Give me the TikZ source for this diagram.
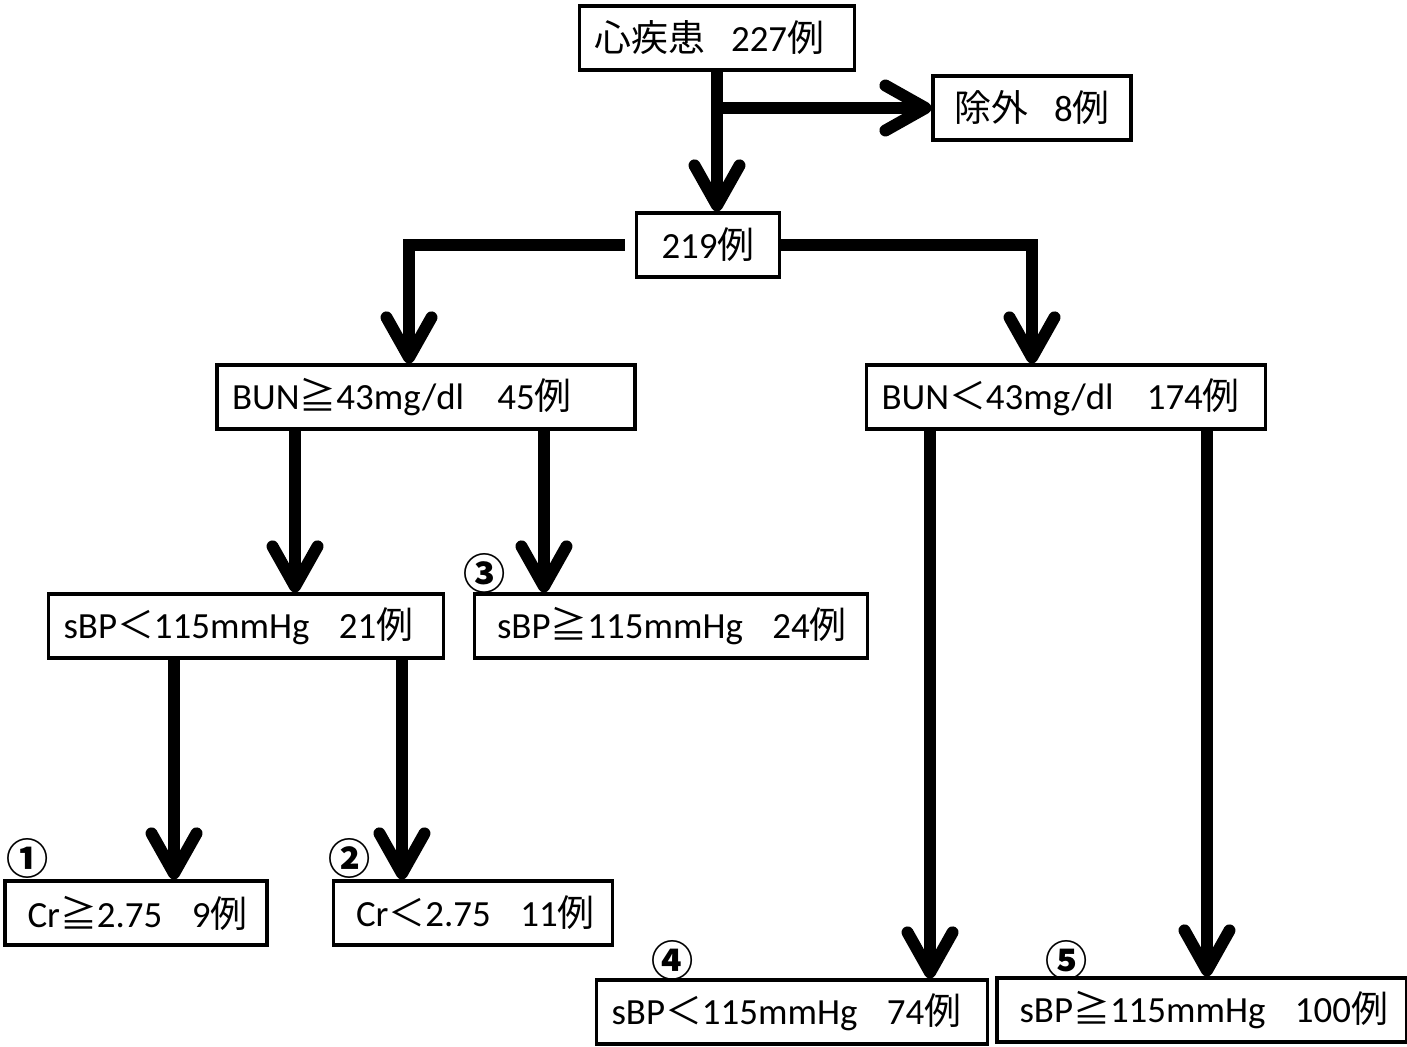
\documentclass[tikz,border=0pt]{standalone}
\usepackage{fontspec}
\setmainfont{Carlito}
\newfontfamily\jpfont{Noto Sans CJK JP}
\newcommand{\jtx}[1]{{\jpfont #1}}
\usetikzlibrary{arrows.meta,positioning,calc}
\tikzset{
  cbox/.style={draw=black, line width=1.8pt, minimum height=1.28cm, inner xsep=0.3cm,
               align=left, font=\fontsize{21}{25}\selectfont},
  flow/.style={-{Straight Barb[length=0.8cm, width=0.9cm, round]}, line width=0.24cm},
  numlbl/.style={font=\jpfont\bfseries\fontsize{24}{26}\selectfont, inner sep=0pt},
}

\begin{document}
\begin{tikzpicture}[x=0.02cm, y=-0.02cm]
    \useasboundingbox (0,0) rectangle (1407,1047);
    % boxes
    \node[cbox, text width=4.9cm] (top) at (717,38) {\jtx{心疾患}\hspace{0.7em}227\jtx{例}};
    \node[cbox, text width=3.36cm, align=center] (exc) at (1032,108) {\jtx{除外}\hspace{0.7em}8\jtx{例}};
    \node[cbox, text width=2.26cm, align=center] (n219) at (708,245) {219\jtx{例}};
    \node[cbox, text width=7.76cm] (bunhi) at (426,397) {BUN\jtx{≧}43mg/dl\hspace{0.9em}45\jtx{例}};
    \node[cbox, text width=7.38cm] (bunlo) at (1066,397) {BUN\jtx{＜}43mg/dl\hspace{0.9em}174\jtx{例}};
    \node[cbox, text width=7.3cm] (sbplo) at (246,626) {sBP\jtx{＜}115mmHg\hspace{0.8em}21\jtx{例}};
    \node[cbox, text width=7.26cm] (sbphi) at (671,626) {\hspace{0.15cm}sBP\jtx{≧}115mmHg\hspace{0.8em}24\jtx{例}};
    \node[cbox, text width=4.64cm] (crhi) at (136,913) {\hspace{0.15cm}Cr\jtx{≧}2.75\hspace{0.8em}9\jtx{例}};
    \node[cbox, text width=4.98cm] (crlo) at (473,913) {\hspace{0.15cm}Cr\jtx{＜}2.75\hspace{0.8em}11\jtx{例}};
    \node[cbox, text width=7.22cm] (lowlo) at (792,1012) {sBP\jtx{＜}115mmHg\hspace{0.8em}74\jtx{例}};
    \node[cbox, text width=7.6cm] (lowhi) at (1202,1010) {\hspace{0.15cm}sBP\jtx{≧}115mmHg\hspace{0.8em}100\jtx{例}};
    % group numbers
    \node[numlbl] (g1) at (28,858) {①};
    \node[numlbl] (g2) at (350,858) {②};
    \node[numlbl] (g3) at (485,573) {③};
    \node[numlbl] (g4) at (673,960) {④};
    \node[numlbl] (g5) at (1067,960) {⑤};
    % connectors
    \draw[flow] (top.south) -- (top.south |- n219.north);
    \draw[flow] (top.south |- exc.west) -- (exc.west);
    \draw[flow] ([xshift=-0.2cm]n219.west) -| ([xshift=-0.34cm]bunhi.north);
    \draw[flow] (n219.east) -| ([xshift=-0.68cm]bunlo.north);
    \draw[flow] ([xshift=-2.62cm]bunhi.south) -- ([xshift=-2.62cm]bunhi.south |- sbplo.north);
    \draw[flow] ([xshift=2.36cm]bunhi.south) -- ([xshift=2.36cm]bunhi.south |- sbphi.north);
    \draw[flow] ([xshift=-1.44cm]sbplo.south) -- ([xshift=-1.44cm]sbplo.south |- crhi.north);
    \draw[flow] ([xshift=3.12cm]sbplo.south) -- ([xshift=3.12cm]sbplo.south |- crlo.north);
    \draw[flow] ([xshift=-2.72cm]bunlo.south) -- ([xshift=-2.72cm]bunlo.south |- lowlo.north);
    \draw[flow] ([xshift=2.82cm]bunlo.south) -- ([xshift=2.82cm]bunlo.south |- lowhi.north);
\end{tikzpicture}
\end{document}
